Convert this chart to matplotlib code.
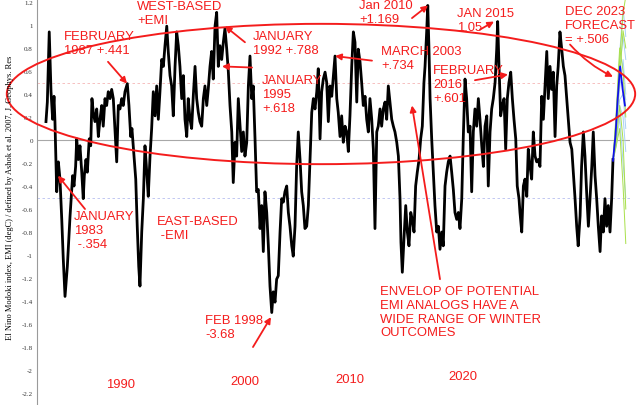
import numpy as np
import matplotlib.pyplot as plt
from matplotlib.patches import Ellipse

# monthly-ish EMI values (decimal year, degC)
years = [1981.97, 1982.07, 1982.21, 1982.34, 1982.46, 1982.56, 1982.63, 1982.76, 1982.88, 1983.00,
         1983.13, 1983.24, 1983.37, 1983.54, 1983.74, 1983.93, 1984.03, 1984.15, 1984.23, 1984.35,
         1984.47, 1984.60, 1984.71, 1984.79, 1984.91, 1985.01, 1985.15, 1985.26, 1985.35, 1985.45,
         1985.57, 1985.70, 1985.82, 1985.94, 1986.07, 1986.18, 1986.31, 1986.43, 1986.55, 1986.68,
         1986.80, 1986.92, 1987.04, 1987.17, 1987.29, 1987.41, 1987.54, 1987.65, 1987.78, 1987.95,
         1988.07, 1988.20, 1988.29, 1988.44, 1988.57, 1988.68, 1988.79, 1988.88, 1989.01, 1989.13,
         1989.25, 1989.38, 1989.49, 1989.62, 1989.74, 1989.86, 1989.99, 1990.11, 1990.23, 1990.35,
         1990.48, 1990.60, 1990.72, 1990.85, 1990.96, 1991.09, 1991.21, 1991.33, 1991.46, 1991.58,
         1991.70, 1991.82, 1991.95, 1992.07, 1992.19, 1992.32, 1992.43, 1992.56, 1992.68, 1992.80,
         1992.93, 1993.05, 1993.17, 1993.29, 1993.42, 1993.54, 1993.66, 1993.79, 1993.90, 1994.03,
         1994.15, 1994.27, 1994.40, 1994.52, 1994.64, 1994.76, 1994.89, 1995.01, 1995.13, 1995.26,
         1995.38, 1995.50, 1995.63, 1995.74, 1995.87, 1995.99, 1996.11, 1996.36, 1996.48, 1996.60,
         1996.73, 1996.85, 1996.97, 1997.10, 1997.21, 1997.34, 1997.46, 1997.58, 1997.71, 1997.83,
         1997.95, 1998.07, 1998.20, 1998.32, 1998.44, 1998.57, 1998.68, 1998.81, 1998.93, 1999.05,
         1999.18, 1999.30, 1999.42, 1999.54, 1999.67, 1999.79, 1999.91, 2000.04, 2000.15, 2000.28,
         2000.40, 2000.52, 2000.65, 2000.77, 2000.89, 2001.01, 2001.14, 2001.26, 2001.38, 2001.51,
         2001.63, 2001.75, 2001.88, 2001.99, 2002.12, 2002.24, 2002.36, 2002.49, 2002.61, 2002.73,
         2002.85, 2002.98, 2003.10, 2003.22, 2003.35, 2003.46, 2003.59, 2003.71, 2003.83, 2003.96,
         2004.08, 2004.20, 2004.32, 2004.45, 2004.57, 2004.69, 2004.82, 2004.93, 2005.06, 2005.18,
         2005.30, 2005.43, 2005.55, 2005.67, 2005.79, 2005.92, 2006.04, 2006.16, 2006.29, 2006.40,
         2006.53, 2006.65, 2006.77, 2006.90, 2007.02, 2007.14, 2007.26, 2007.39, 2007.51, 2007.63,
         2007.76, 2007.88, 2008.00, 2008.07, 2008.17, 2008.29, 2008.42, 2008.54, 2008.66, 2008.79,
         2008.90, 2009.03, 2009.15, 2009.27, 2009.40, 2009.52, 2009.64, 2009.76, 2009.84, 2009.96,
         2010.04, 2010.13, 2010.21, 2010.33, 2010.45, 2010.57, 2010.70, 2010.82, 2010.94, 2011.07,
         2011.18, 2011.31, 2011.43, 2011.55, 2011.68, 2011.80, 2011.92, 2012.04, 2012.17, 2012.29,
         2012.41, 2012.54, 2012.65, 2012.78, 2012.90, 2013.02, 2013.15, 2013.27, 2013.39, 2013.51,
         2013.64, 2013.76, 2013.88, 2014.01, 2014.13, 2014.25, 2014.38, 2014.49, 2014.62, 2014.74,
         2014.86, 2014.99, 2015.11, 2015.18, 2015.28, 2015.40, 2015.52, 2015.65, 2015.77, 2015.89,
         2016.01, 2016.14, 2016.26, 2016.38, 2016.51, 2016.62, 2016.75, 2016.82, 2016.95, 2017.07,
         2017.19, 2017.32, 2017.43, 2017.56, 2017.68, 2017.80, 2017.93, 2018.05, 2018.17, 2018.29,
         2018.42, 2018.54, 2018.66, 2018.79, 2018.90, 2019.03, 2019.15, 2019.27, 2019.40, 2019.52,
         2019.63, 2019.76, 2019.89, 2020.01, 2020.13, 2020.26, 2020.38, 2020.50, 2020.63, 2020.74,
         2020.87, 2020.99, 2021.10, 2021.24, 2021.35, 2021.48, 2021.60, 2021.72, 2021.85, 2021.97,
         2022.10, 2022.21, 2022.34, 2022.46, 2022.58, 2022.71, 2022.82, 2022.95, 2023.07, 2023.19,
         2023.31, 2023.44, 2023.56, 2023.66]
emi = [0.16, 0.33, 0.94, 0.42, 0.18, 0.38, 0.16, -0.45, -0.19, -0.34,
       -0.69, -1.03, -1.36, -1.10, -0.66, -0.31, -0.40, -0.23, 0.01, -0.17,
       -0.05, -0.28, -0.51, -0.31, -0.17, -0.28, 0.01, -0.05, 0.36, 0.24,
       0.16, 0.27, 0.03, 0.18, 0.30, 0.12, 0.36, 0.30, 0.42, 0.36,
       0.44, 0.36, 0.10, -0.19, 0.30, 0.27, 0.36, 0.30, 0.42, 0.49,
       0.30, 0.03, 0.10, -0.14, -0.34, -0.75, -1.10, -1.27, -0.80, -0.51,
       -0.05, -0.28, -0.49, -0.14, 0.10, 0.42, 0.21, 0.47, 0.18, 0.42,
       0.70, 0.64, 0.82, 0.99, 0.77, 0.56, 0.47, 0.21, 0.64, 0.94,
       0.82, 0.64, 0.36, 0.56, 0.18, 0.03, 0.36, 0.18, 0.10, 0.38,
       0.64, 0.36, 0.24, 0.16, 0.12, 0.36, 0.47, 0.30, 0.44, 0.64,
       0.77, 0.53, 0.99, 1.11, 0.64, 0.82, 0.70, 0.85, 0.97, 0.79,
       0.59, 0.30, 0.07, -0.37, -0.02, -0.14, 0.36, -0.10, 0.07, -0.14,
       -0.02, 0.47, 0.73, 0.36, 0.47, 0.01, -0.45, -0.43, -0.77, -0.57,
       -0.97, -0.45, -0.63, -0.92, -1.27, -1.50, -1.32, -1.41, -1.21, -1.18,
       -0.80, -0.51, -0.54, -0.45, -0.40, -0.63, -0.75, -0.92, -1.01, -0.75,
       -0.23, 0.07, -0.17, -0.45, -0.57, -0.77, -0.75, -0.57, -0.17, 0.24,
       0.36, 0.27, 0.42, 0.62, 0.01, 0.42, 0.53, 0.59, 0.50, 0.16,
       0.47, 0.38, 0.56, 0.73, 0.36, 0.24, 0.03, 0.21, -0.02, 0.12,
       0.07, -0.10, 0.21, 0.64, 0.94, 0.85, 0.33, 0.79, 0.68, 0.50,
       0.30, 0.38, 0.18, 0.07, 0.36, 0.18, -0.08, -0.77, 0.07, 0.12,
       0.27, 0.12, 0.27, 0.33, 0.18, 0.47, 0.33, 0.18, 0.12, 0.07,
       -0.02, -0.14, -0.51, -0.89, -1.15, -0.86, -0.57, -0.80, -0.92, -0.63,
       -0.69, -0.80, -0.40, -0.28, -0.17, 0.01, 0.12, 0.50, 0.64, 0.94,
       1.17, 0.79, 0.36, 0.01, -0.28, -0.57, -0.80, -0.75, -0.95, -0.80,
       -0.92, -0.40, -0.28, -0.19, -0.14, -0.28, -0.43, -0.63, -0.69, -0.63,
       -0.77, -0.51, 0.01, 0.53, 0.36, 0.07, 0.12, -0.45, 0.07, 0.27,
       0.12, 0.36, 0.18, -0.05, -0.23, 0.12, 0.21, -0.40, 0.07, 0.27,
       0.36, 0.50, 0.79, 1.03, 0.64, 0.21, 0.30, 0.36, -0.08, 0.36,
       0.50, 0.59, 0.36, 0.18, 0.01, -0.40, -0.51, -0.63, -0.80, -0.40,
       -0.34, -0.49, -0.08, -0.23, -0.34, 0.07, -0.14, -0.19, -0.17, -0.23,
       0.38, 0.18, 0.47, 0.77, 0.36, 0.64, 0.44, 0.59, 0.03, 0.47,
       0.64, 0.94, 0.79, 0.64, 0.56, 0.36, 0.18, -0.02, -0.08, -0.28,
       -0.51, -0.75, -0.92, -0.66, -0.23, 0.07, -0.14, -0.45, -0.75, -0.51,
       -0.23, 0.07, -0.31, -0.51, -0.75, -0.97, -0.66, -0.80, -0.51, -0.75,
       -0.57, -0.80, -0.51, -0.17]

# forecast plume (members and ensemble mean)
fc_years = [2023.66, 2023.9, 2024.15, 2024.4, 2024.6]
fc_green = [[-0.18, 0.20, 0.70, 1.10, 1.25],
            [-0.18, 0.00, 0.30, 0.00, -0.60],
            [-0.18, -0.05, 0.10, -0.40, -0.90],
            [-0.18, 0.25, 0.80, 0.60, 0.20],
            [-0.18, 0.10, 0.55, 0.95, 0.80]]
fc_lightblue = [[-0.18, 0.15, 0.60, 0.90, 0.70],
                [-0.18, 0.10, 0.50, 0.50, 0.35],
                [-0.18, 0.20, 0.75, 1.15, 0.90],
                [-0.18, 0.00, 0.30, 0.20, -0.10],
                [-0.18, -0.05, 0.20, -0.20, -0.50],
                [-0.18, 0.10, 0.45, 0.70, 0.40],
                [-0.18, 0.05, 0.35, 0.40, 0.10]]
mean_years = [2023.66, 2023.85, 2024.0, 2024.18, 2024.37, 2024.54]
mean_emi = [-0.18, 0.05, 0.35, 0.64, 0.44, 0.30]

yticks = np.round(np.arange(-2.2, 1.21, 0.2), 1)

RED = '#f41c1c'
W, H = 640, 406

fig = plt.figure(figsize=(6.4, 4.06), dpi=100)
ax = fig.add_axes([37 / W, 0, 593 / W, 1])
ax.set_xlim(1981.31, 2024.91)
ax.set_ylim(-2.304, 1.226)

for s in ['top', 'right', 'bottom']:
    ax.spines[s].set_visible(False)
ax.spines['left'].set_color('#9a9a9a')
ax.set_xticks([])
ax.set_yticks(yticks)
ax.set_yticklabels(['{:g}'.format(v) for v in yticks], family='Liberation Serif',
                   fontsize=5, color='#333333')
ax.tick_params(axis='y', length=0, pad=3)

# reference lines
ax.axhline(0, color='#a8a8a8', lw=0.8, zorder=1)
ax.axhline(0.5, color='#f5b5b5', lw=0.6, ls=(0, (3, 3)), zorder=1)
ax.axhline(-0.5, color='#b8bff0', lw=0.6, ls=(0, (3, 3)), zorder=1)

ax.plot(years, emi, color='black', lw=2.0, zorder=3)

for m in fc_lightblue:
    ax.plot(fc_years, m, color='#a9d0f5', lw=0.7, zorder=2)
for m in fc_green:
    ax.plot(fc_years, m, color='#a8e04a', lw=0.7, zorder=2)
ax.plot(mean_years, mean_emi, color='#1010ee', lw=1.3, zorder=4)

# red envelope ellipse
ax.add_patch(Ellipse((2002.19, 0.40), 46.2, 1.22, fill=False, ec=RED, lw=1.4,
                     clip_on=False, zorder=5))

fig.text(10 / W, 1 - 198 / H,
         'El Nino Modoki index, EMI (degC) / defined by Ashok et al. 2007, J. Geophys. Res',
         rotation=90, ha='center', va='center', family='Liberation Serif', fontsize=6)


def label(x, y, s, **kw):
    fig.text(x / W, 1 - y / H, s, color=RED, family='Liberation Sans', fontsize=9.4,
             ha=kw.pop('ha', 'left'), va=kw.pop('va', 'top'), **kw)


def arrow(tail, head, rad=0.0):
    ax.annotate('', xy=head, xytext=tail, annotation_clip=False,
                arrowprops=dict(arrowstyle='-|>', color=RED, lw=1.3, mutation_scale=9,
                                shrinkA=0, shrinkB=0,
                                connectionstyle='arc3,rad={}'.format(rad)))


label(64, 31, 'FEBRUARY\n1987 +.441')
arrow((1986.53, 0.68), (1987.93, 0.49))
label(137, 1, 'WEST-BASED\n+EMI')
label(253, 31, 'JANUARY\n1992 +.788')
arrow((1996.60, 0.85), (1995.13, 0.99))
label(262, 75, 'JANUARY\n1995\n+.618')
arrow((1997.12, 0.63), (1994.91, 0.64))
label(359, 0, 'Jan 2010\n+1.169')
arrow((2008.88, 1.06), (2010.06, 1.17))
label(457, 8, 'JAN 2015\n1.05')
arrow((2013.88, 0.96), (2014.91, 1.03))
label(381, 46, 'MARCH 2003\n+.734')
arrow((2005.94, 0.69), (2003.22, 0.73))
label(433, 65, 'FEBRUARY\n2016\n+.601')
arrow((2013.51, 0.52), (2015.94, 0.57))
label(74, 211, 'JANUARY\n1983\n -.354')
arrow((1984.84, -0.60), (1982.85, -0.31))
label(157, 216, 'EAST-BASED\n -EMI')
label(205, 315, 'FEB 1998\n-3.68')
arrow((1997.19, -1.80), (1998.51, -1.54))
label(380, 286, 'ENVELOP OF POTENTIAL\nEMI ANALOGS HAVE A\nWIDE RANGE OF WINTER\nOUTCOMES')
arrow((2010.94, -1.21), (2008.88, 0.30))
label(565, 6, 'DEC 2023\nFORECAST\n= +.506')
arrow((2020.50, 0.83), (2023.66, 0.55), rad=0.1)

for yr, (x, y) in zip(['1990', '2000', '2010', '2020'],
                      [(121, 385), (245, 382), (350, 380), (463, 377)]):
    label(x, y, yr, ha='center', va='center')

fig.savefig('out.png', dpi=100)
